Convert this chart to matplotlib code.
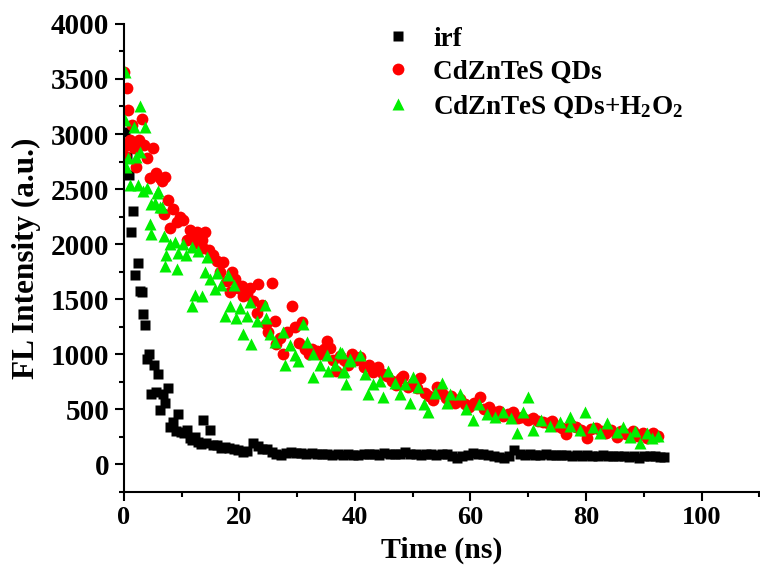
import matplotlib
matplotlib.use("Agg")
import matplotlib.pyplot as plt
from matplotlib.ticker import MultipleLocator

plt.rcParams['font.family'] = ['Liberation Serif', 'DejaVu Serif']
plt.rcParams['font.weight'] = 'bold'
plt.rcParams['mathtext.fontset'] = 'custom'
plt.rcParams['mathtext.rm'] = 'Liberation Serif:bold'
plt.rcParams['mathtext.it'] = 'Liberation Serif:bold:italic'
plt.rcParams['mathtext.bf'] = 'Liberation Serif:bold'

# Instrument response function
irf_t = [0.2, 0.5, 0.9, 1.3, 1.6, 2.0, 2.4, 2.8, 3.1, 3.4, 3.7, 4.1, 4.4, 4.8, 5.2,
         5.6, 6.0, 6.3, 6.8, 7.2, 7.7, 8.0, 8.5, 9.0, 9.4, 9.9, 10.4, 10.9, 11.4,
         11.8, 12.3, 12.8, 13.3, 13.8, 14.3, 14.9, 15.4, 16.1, 16.8, 17.5, 18.3,
         19.0, 19.8, 20.6, 21.4, 22.4, 23.2, 24.0, 24.8, 25.6, 26.4, 27.2, 28.0,
         28.9, 29.8, 30.7, 31.6, 32.5, 33.4, 34.3, 35.2, 36.1, 37.0, 37.9, 38.8,
         39.7, 40.6, 41.5, 42.4, 43.3, 44.2, 45.1, 46.0, 46.9, 47.8, 48.7, 49.6,
         50.5, 51.4, 52.3, 53.2, 54.1, 55.0, 55.9, 56.8, 57.7, 58.6, 59.5, 60.4,
         61.3, 62.2, 63.1, 64.0, 64.9, 65.8, 66.7, 67.6, 68.5, 69.4, 70.3, 71.2,
         72.1, 73.0, 73.9, 74.8, 75.7, 76.6, 77.5, 78.4, 79.3, 80.2, 81.1, 82.0,
         82.9, 83.8, 84.7, 85.6, 86.5, 87.4, 88.3, 89.2, 90.1, 91.0, 91.9, 92.8, 93.5]
irf_i = [3020, 2790, 2630, 2110, 2300, 1720, 1830, 1570, 1560, 1360, 1260, 960, 1000,
         640, 900, 660, 820, 490, 640, 560, 690, 340, 380, 300, 460, 290, 280, 310,
         240, 220, 250, 200, 180, 400, 190, 310, 170, 170, 150, 155, 145, 140, 125,
         110, 120, 190, 165, 140, 140, 115, 95, 85, 100, 110, 100, 100, 95, 100, 90,
         95, 90, 85, 90, 85, 90, 80, 85, 90, 95, 90, 85, 100, 95, 90, 95, 110, 95,
         90, 85, 95, 90, 80, 95, 90, 75, 60, 70, 85, 100, 95, 90, 85, 70, 65, 60,
         70, 130, 95, 85, 90, 80, 85, 90, 80, 85, 80, 85, 75, 80, 75, 80, 70, 75,
         80, 70, 75, 75, 70, 65, 70, 60, 70, 75, 70, 65, 65]

# CdZnTeS QDs
qd_t = [0.1, 0.3, 0.5, 0.6, 0.8, 1.1, 1.4, 1.7, 2.2, 2.6, 3.1, 3.5, 4.0, 4.5, 5.1,
        5.6, 6.3, 6.6, 6.9, 7.1, 7.7, 8.0, 8.6, 9.2, 9.7, 10.3, 10.9, 11.5, 12.0,
        12.6, 13.1, 13.5, 13.8, 14.1, 14.8, 15.5, 16.1, 16.7, 17.2, 17.8, 18.4,
        18.7, 19.3, 19.8, 20.4, 20.7, 21.3, 21.9, 22.4, 23.0, 23.3, 23.9, 24.7,
        25.0, 25.6, 26.1, 26.4, 27.0, 27.6, 28.3, 29.1, 29.7, 30.3, 30.8, 31.4,
        32.0, 32.6, 33.4, 34.0, 34.6, 35.1, 35.7, 36.3, 36.8, 37.5, 38.1, 38.8,
        39.5, 40.2, 40.9, 41.6, 42.4, 43.2, 44.0, 44.8, 45.6, 46.4, 47.2, 48.0,
        48.4, 49.2, 50.0, 50.7, 51.3, 52.1, 52.8, 53.5, 54.3, 55.0, 55.8, 56.6,
        57.4, 58.2, 59.0, 59.8, 60.6, 61.6, 62.4, 63.3, 64.1, 64.9, 65.7, 66.5,
        67.4, 68.2, 69.0, 69.9, 70.9, 71.7, 72.5, 73.4, 74.2, 75.0, 75.8, 76.6,
        77.4, 78.2, 79.1, 80.1, 80.9, 81.7, 82.6, 83.4, 84.3, 85.3, 86.1, 87.0,
        88.1, 88.9, 89.8, 90.6, 91.6, 92.4]
qd_i = [3560, 2800, 2900, 3420, 3220, 2950, 3080, 2870, 2700, 2950, 3140, 2900, 2780,
        2600, 2870, 2650, 2600, 2570, 2270, 2610, 2400, 2150, 2320, 2200, 2250, 2220,
        2040, 2130, 2050, 2110, 2000, 2040, 1960, 2110, 1950, 1900, 1850, 1750, 1840,
        1660, 1560, 1750, 1680, 1600, 1620, 1530, 1550, 1600, 1480, 1370, 1640, 1450,
        1270, 1200, 1650, 1300, 1090, 1150, 1000, 1200, 1440, 1250, 1100, 1290, 1050,
        1000, 1050, 1030, 1000, 1050, 1120, 1060, 950, 850, 980, 950, 900, 1000, 950,
        970, 880, 900, 840, 880, 820, 800, 760, 720, 780, 800, 700, 740, 690, 780,
        650, 620, 580, 700, 650, 600, 620, 560, 590, 550, 520, 560, 610, 500, 520,
        470, 480, 440, 460, 470, 420, 430, 400, 420, 390, 380, 370, 390, 350, 330,
        270, 360, 340, 310, 240, 320, 330, 300, 280, 310, 250, 300, 270, 300, 260,
        280, 240, 280, 260]

# CdZnTeS QDs + H2O2
h2o2_t = [0.2, 0.2, 0.4, 0.8, 1.1, 1.7, 2.2, 2.5, 2.8, 2.8, 3.4, 3.7, 4.0, 4.5, 4.8,
          4.8, 5.4, 5.7, 6.0, 6.3, 6.6, 6.9, 7.1, 7.4, 8.0, 8.9, 9.2, 9.4, 10.3,
          10.8, 11.8, 11.8, 12.3, 12.9, 13.5, 14.1, 14.4, 14.9, 15.8, 16.1, 16.9,
          17.5, 18.1, 18.4, 19.0, 19.5, 20.1, 20.7, 21.3, 21.9, 22.1, 23.0, 24.4,
          24.7, 25.3, 26.1, 27.6, 27.9, 28.8, 29.6, 30.2, 31.1, 31.7, 32.8, 32.8,
          34.0, 35.1, 35.4, 36.5, 37.4, 37.7, 38.0, 38.2, 38.5, 39.1, 39.2, 40.9,
          41.8, 42.3, 43.2, 44.4, 44.9, 45.8, 47.0, 47.8, 48.7, 49.5, 50.1, 51.0,
          51.9, 52.7, 53.9, 55.0, 56.0, 56.5, 58.2, 59.3, 60.5, 61.4, 62.8, 64.2,
          65.7, 67.0, 68.0, 69.1, 70.0, 70.9, 72.3, 73.8, 75.5, 77.2, 77.2, 79.0,
          79.8, 81.2, 82.4, 83.6, 85.3, 86.4, 87.6, 88.5, 89.3, 90.5, 91.5, 92.5]
h2o2_i = [3560, 3130, 2700, 2780, 2540, 3060, 2790, 2540, 3250, 2840, 2480, 3060, 2510,
          2180, 2360, 2090, 2370, 2460, 2480, 2340, 2340, 2070, 1800, 1900, 2000, 2020,
          1770, 1920, 2000, 1900, 1970, 1440, 1540, 1940, 1530, 1750, 1880, 1680, 1590,
          1740, 1630, 1350, 1720, 1440, 1630, 1330, 1420, 1180, 1350, 1470, 1090, 1300,
          1450, 1330, 1180, 1110, 1200, 900, 1080, 990, 940, 1270, 1110, 1000, 790,
          900, 990, 850, 900, 1020, 1010, 840, 850, 730, 940, 960, 990, 820, 640, 730,
          760, 610, 850, 740, 640, 730, 560, 790, 700, 550, 470, 650, 740, 560, 640,
          640, 500, 400, 550, 460, 430, 470, 420, 280, 470, 610, 310, 400, 350, 380,
          430, 350, 310, 470, 340, 280, 370, 290, 340, 250, 300, 190, 280, 240, 260]

labels = ['irf', 'CdZnTeS QDs', r'CdZnTeS QDs+H$_{2}$O$_{2}$']

fig = plt.figure(figsize=(7.6, 5.69), dpi=100)
ax = fig.add_axes([0.1628, 0.1359, 0.8363, 0.8220])

ax.plot(irf_t, irf_i, 's', color='black', markersize=7, mec='none', label=labels[0])
ax.plot(qd_t, qd_i, 'o', color='#ff0000', markersize=8.5, mec='none', label=labels[1])
ax.plot(h2o2_t, h2o2_i, '^', color='#00ee00', markersize=9, mec='none', label=labels[2])

ax.set_xlim(0, 110)
ax.set_ylim(-250, 4000)
ax.xaxis.set_major_locator(MultipleLocator(20))
ax.xaxis.set_minor_locator(MultipleLocator(10))
ax.yaxis.set_major_locator(MultipleLocator(500))
ax.yaxis.set_minor_locator(MultipleLocator(250))

for s in ['top', 'right']:
    ax.spines[s].set_visible(False)
for s in ['left', 'bottom']:
    ax.spines[s].set_linewidth(1.5)

ax.tick_params(which='major', direction='out', length=6.5, width=1.5, pad=4)
ax.tick_params(which='minor', direction='out', length=3.5, width=1.5)
ax.tick_params(axis='x', which='major', labelsize=19)
ax.tick_params(axis='y', which='major', labelsize=21)
for lab in ax.get_xticklabels() + ax.get_yticklabels():
    lab.set_fontweight('bold')

ax.set_xlabel('Time (ns)', fontsize=21.5, fontweight='bold', labelpad=5)
ax.set_ylabel('FL Intensity (a.u.)', fontsize=22.5, fontweight='bold', labelpad=7)

leg = ax.legend(loc='upper left', bbox_to_anchor=(0.389, 1.017), frameon=False,
                prop={'family': 'Liberation Serif', 'weight': 'bold', 'size': 19.5},
                handletextpad=0.7, labelspacing=0.3, markerscale=1.0,
                handlelength=1.2, borderaxespad=0.0)

fig.savefig('out.png', dpi=100)
